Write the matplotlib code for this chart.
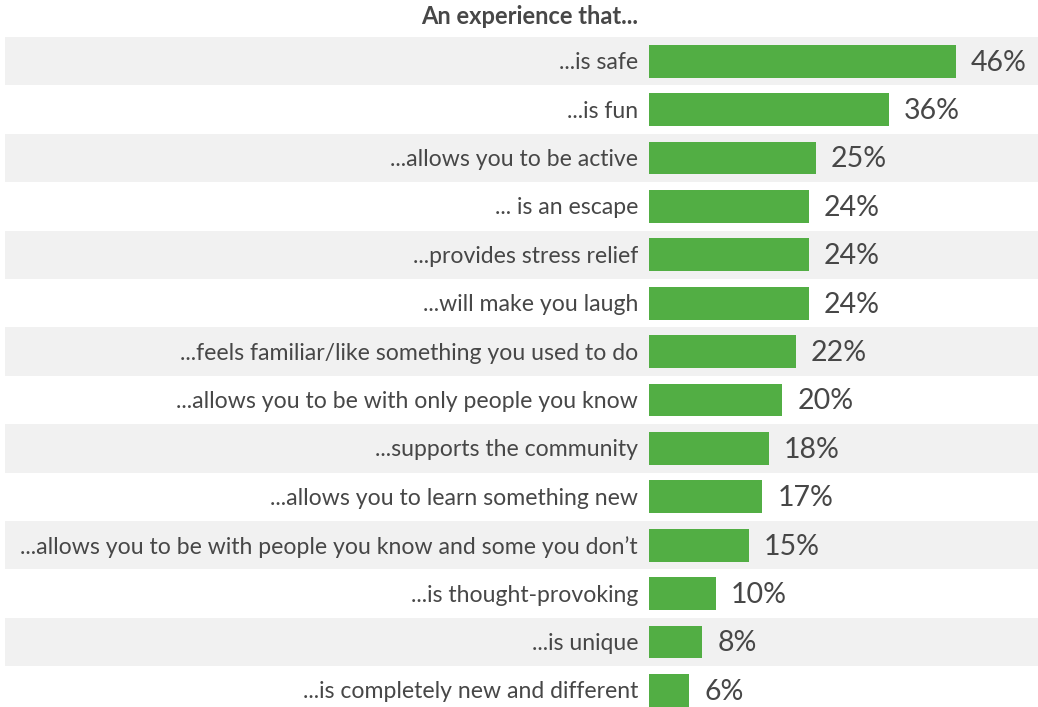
import matplotlib.pyplot as plt

categories = [
    "...is safe",
    "...is fun",
    "...allows you to be active",
    "... is an escape",
    "...provides stress relief",
    "...will make you laugh",
    "...feels familiar/like something you used to do",
    "...allows you to be with only people you know",
    "...supports the community",
    "...allows you to learn something new",
    "...allows you to be with people you know and some you don\u2019t",
    "...is thought-provoking",
    "...is unique",
    "...is completely new and different",
]
values = [46, 36, 25, 24, 24, 24, 22, 20, 18, 17, 15, 10, 8, 6]

GREEN = "#52ae44"
BAND = "#f1f1f1"
TEXT = "#474747"

W, H = 1038, 707
PX_PER_PCT = 6.67
ZERO_PX = 649
ROW_TOP = 37
ROW_H = 48.4

plt.rcParams["font.family"] = ["Lato", "DejaVu Sans"]

fig = plt.figure(figsize=(W / 100, H / 100), dpi=100)

ax = fig.add_axes([5 / W, 0, 1 - 5 / W, 1 - ROW_TOP / H])
ax.set_xlim(-(ZERO_PX - 5) / PX_PER_PCT, (W - ZERO_PX) / PX_PER_PCT)
n = len(categories)
ax.set_ylim((H - ROW_TOP) / ROW_H - 0.5, -0.5)
ax.axis("off")

# alternating grey row bands
for i in range(0, n, 2):
    ax.axhspan(i - 0.5, i + 0.5, color=BAND, lw=0, zorder=0)

ax.barh(range(n), values, height=0.68, color=GREEN, zorder=2)

for i, (cat, v) in enumerate(zip(categories, values)):
    ax.text(-11 / PX_PER_PCT, i + 0.03, cat, ha="right", va="center",
            fontsize=16.6, color=TEXT)
    ax.text(v + 15 / PX_PER_PCT, i + 0.03, f"{v}%", ha="left", va="center",
            fontsize=20.5, color=TEXT)

fig.text(638 / W, 1 - 17 / H, "An experience that...", ha="right",
         va="center", fontsize=17, fontweight="bold", color=TEXT)

fig.savefig("out.png", dpi=100)
